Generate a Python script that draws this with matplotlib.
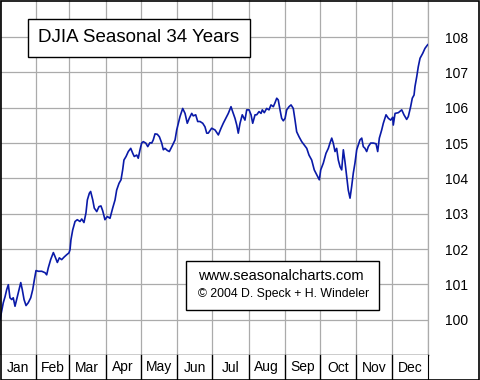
import matplotlib.pyplot as plt
import matplotlib.patches as patches

# Seasonal pattern, day of year vs index (start = 100)
days = [0, 2.8, 4.3, 5.7, 7.1, 8.5, 10.0, 11.3, 12.8, 14.2, 15.6, 17.7, 19.0, 20.5,
        22.2, 24.1, 26.2, 27.9, 29.3, 30.7, 32.7, 35.6, 38.4, 39.8, 41.2, 43.2, 45.5,
        46.9, 48.9, 50.6, 52.6, 54.6, 56.9, 58.8, 59.7, 60.5, 62.0, 64.0, 65.9, 68.2,
        69.7, 71.6, 73.3, 74.5, 76.2, 77.3, 79.1, 80.4, 82.5, 84.4, 86.1, 87.6, 89.5,
        91.5, 93.8, 96.1, 98.1, 99.5, 101.5, 103.2, 104.6, 105.7, 107.5, 109.4, 111.5,
        113.2, 114.5, 116.6, 117.9, 119.4, 120.8, 122.2, 124.3, 126.0, 127.9, 129.4,
        130.7, 132.2, 134.1, 135.9, 137.9, 139.3, 140.7, 142.7, 144.4, 145.8, 147.3,
        149.3, 150.7, 152.1, 153.5, 155.8, 157.8, 159.7, 161.4, 163.5, 164.8, 166.9,
        168.6, 170.6, 172.9, 174.8, 176.3, 177.6, 180.5, 183.4, 186.2, 188.5, 190.4,
        192.5, 194.7, 197.0, 198.4, 200.4, 201.9, 203.2, 204.7, 206.6, 208.9, 210.4,
        212.4, 214.1, 215.5, 217.5, 218.9, 220.9, 222.6, 223.7, 225.4, 227.4, 229.4,
        231.1, 233.1, 234.5, 236.0, 237.3, 238.8, 240.2, 241.6, 243.1, 244.5, 246.5,
        248.2, 250.1, 251.6, 253.0, 255.0, 257.3, 259.3, 261.6, 263.5, 265.8, 268.0,
        270.1, 272.3, 273.5, 275.7, 278.0, 280.0, 281.4, 282.9, 284.2, 285.7, 287.1,
        288.5, 290.0, 291.4, 292.8, 294.2, 295.7, 297.0, 298.5, 299.9, 301.3, 302.7,
        304.2, 305.6, 307.0, 308.5, 309.8, 311.3, 312.7, 314.1, 316.1, 318.4, 320.7,
        322.1, 323.5, 325.5, 326.9, 329.2, 331.2, 333.2, 334.9, 335.4, 336.9, 339.7,
        342.6, 344.5, 346.8, 348.2, 350.2, 351.6, 353.1, 353.9, 355.4, 356.7, 358.2,
        360.5, 362.4, 364.4, 365]
values = [100.00, 100.48, 100.65, 100.85, 100.99, 100.62, 100.57, 100.62, 100.38, 100.57,
          100.76, 101.05, 100.85, 100.57, 100.40, 100.48, 100.62, 100.85, 101.13, 101.39,
          101.37, 101.37, 101.33, 101.27, 101.47, 101.70, 101.90, 101.79, 101.62, 101.75,
          101.70, 101.77, 101.84, 101.89, 101.98, 102.26, 102.54, 102.78, 102.83, 102.78,
          102.85, 102.75, 103.02, 103.39, 103.58, 103.63, 103.39, 103.16, 103.06, 103.20,
          103.22, 103.08, 102.83, 102.92, 102.87, 103.16, 103.39, 103.67, 103.86, 103.96,
          104.24, 104.52, 104.62, 104.76, 104.85, 104.71, 104.62, 104.66, 104.57, 104.81,
          105.00, 105.04, 105.00, 104.90, 105.01, 105.00, 105.09, 105.26, 105.25, 105.18,
          105.00, 104.81, 104.85, 104.79, 104.76, 104.85, 104.95, 105.09, 105.37, 105.56,
          105.75, 105.98, 105.84, 105.56, 105.70, 105.84, 105.77, 105.80, 105.61, 105.61,
          105.56, 105.46, 105.28, 105.28, 105.42, 105.37, 105.23, 105.42, 105.56, 105.70,
          105.84, 106.03, 105.89, 105.70, 105.51, 105.28, 105.56, 105.80, 105.65, 105.94,
          105.94, 105.80, 105.56, 105.80, 105.80, 105.89, 105.84, 105.94, 105.86, 105.98,
          105.94, 106.08, 106.03, 106.14, 106.27, 106.22, 105.94, 105.70, 105.63, 105.70,
          105.94, 106.03, 106.08, 105.98, 105.65, 105.32, 105.18, 105.04, 104.95, 104.85,
          104.66, 104.52, 104.24, 104.10, 103.96, 104.24, 104.43, 104.71, 104.85, 105.00,
          105.14, 105.00, 104.76, 104.85, 104.52, 104.33, 104.24, 104.81, 104.47, 104.05,
          103.67, 103.44, 103.77, 104.15, 104.43, 104.81, 104.95, 105.09, 105.14, 104.90,
          104.85, 104.76, 104.90, 105.00, 105.00, 104.98, 104.76, 105.14, 105.37, 105.56,
          105.80, 105.70, 105.65, 105.73, 105.51, 105.84, 105.86, 105.94, 105.80, 105.67,
          105.75, 106.03, 106.27, 106.36, 106.60, 106.88, 107.16, 107.40, 107.54, 107.68,
          107.77, 107.79]

months = ["Jan", "Feb", "Mar", "Apr", "May", "Jun", "Jul", "Aug", "Sep", "Oct", "Nov", "Dec"]
month_days = [31, 28, 31, 30, 31, 30, 31, 31, 30, 31, 30, 31]
y_ticks = [100, 101, 102, 103, 104, 105, 106, 107, 108]

edges = [0]
for d in month_days:
    edges.append(edges[-1] + d)

W, H = 480, 380
fig = plt.figure(figsize=(4.8, 3.8), dpi=100)
plt.rcParams['font.family'] = ['Liberation Sans', 'DejaVu Sans']

# main chart
ax = fig.add_axes([0, 25 / H, 428 / W, 355 / H])
ax.set_xlim(0, 365)
ax.set_ylim(99.0, 109.05)
ax.set_xticks(edges)
ax.set_xticklabels([])
ax.set_yticks(y_ticks)
ax.set_yticklabels([str(t) for t in y_ticks], fontsize=10)
ax.yaxis.tick_right()
ax.tick_params(axis='both', length=0)
ax.tick_params(axis='y', pad=12)
ax.grid(True, color='#ababab', lw=0.9)
ax.set_axisbelow(True)
for s in ['left', 'top']:
    ax.spines[s].set_visible(False)
ax.spines['right'].set_color('#ababab')
ax.spines['right'].set_linewidth(0.9)
ax.spines['bottom'].set_color('black')
ax.spines['bottom'].set_linewidth(1.0)

ax.plot(days, values, color='#0a1aa8', lw=1.2, zorder=3)

# title box
ax.text(38 / 428, 1 - 37.5 / 355, "DJIA Seasonal 34 Years", transform=ax.transAxes,
        fontsize=13.5, va='center', ha='left', zorder=5,
        bbox=dict(boxstyle='square,pad=0.56', fc='white', ec='black', lw=1.0))

# copyright box
box = patches.Rectangle((186 / 428, 1 - 310 / 355), 193 / 428, 49 / 355,
                        transform=ax.transAxes, fc='white', ec='black', lw=1.0, zorder=5)
ax.add_patch(box)
ax.text(198 / 428, 1 - 276 / 355, "www.seasonalcharts.com", transform=ax.transAxes,
        fontsize=10.5, va='center', ha='left', zorder=6)
ax.text(198 / 428, 1 - 294 / 355, "\u00a9 2004 D. Speck + H. Windeler", transform=ax.transAxes,
        fontsize=8.8, va='center', ha='left', zorder=6)

# month band
bx = fig.add_axes([0, 0, 428 / W, 25 / H])
bx.set_xlim(0, 365)
bx.set_ylim(0, 1)
bx.set_xticks([])
bx.set_yticks([])
for s in ['left', 'top', 'bottom']:
    bx.spines[s].set_visible(False)
bx.spines['right'].set_color('black')
for e in edges[1:-1]:
    bx.axvline(e, color='black', lw=1.0)
for i, m in enumerate(months):
    bx.text((edges[i] + edges[i + 1]) / 2, 0.5, m, ha='center', va='center', fontsize=10)

# outer frame
fig.add_artist(patches.Rectangle((0.5 / W, 0.5 / H), 1 - 1.5 / W, 1 - 1.5 / H,
                                 transform=fig.transFigure, fill=False, ec='black', lw=1.2))

fig.savefig("out.png", dpi=100)
